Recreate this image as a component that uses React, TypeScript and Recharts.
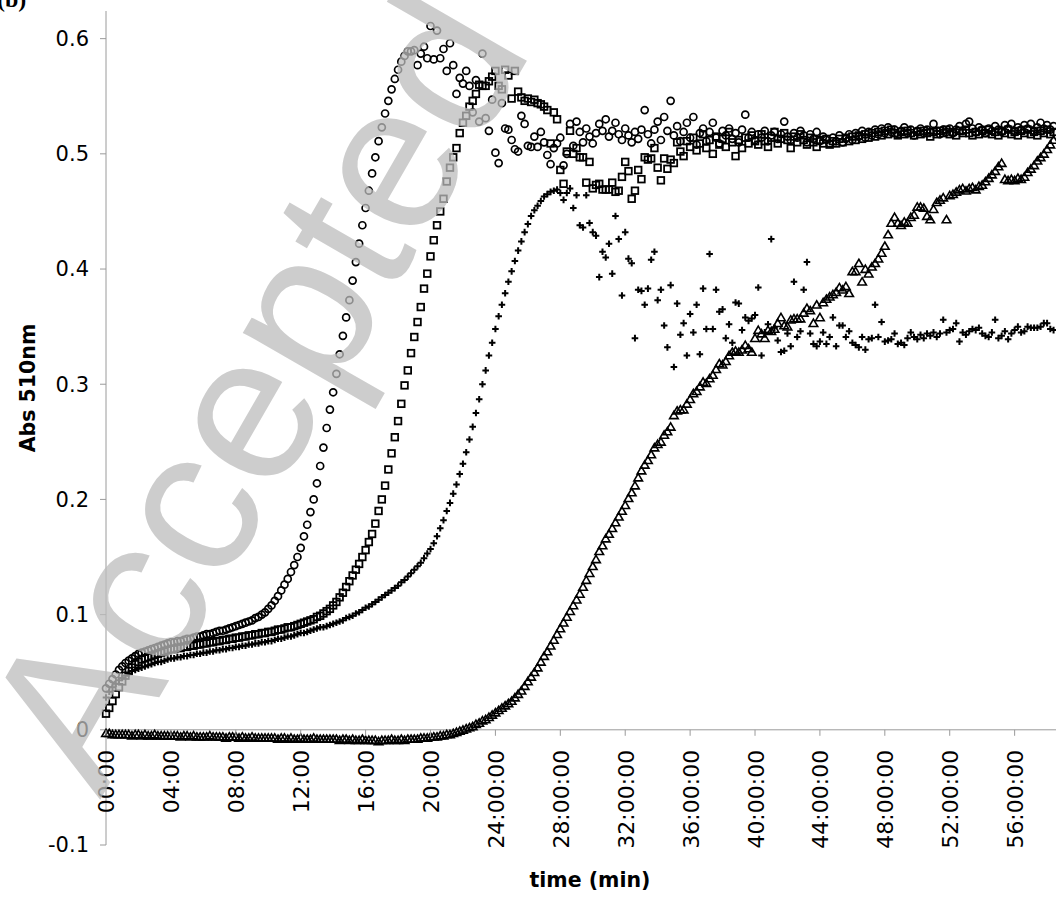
import { ScatterChart, Scatter, XAxis, YAxis, ReferenceLine } from "recharts";

// sample times (min), one reading every 12 s
const TIME_MIN = [
  0, 0.2, 0.4, 0.6, 0.8, 1, 1.2, 1.4, 1.6, 1.8,
  2, 2.2, 2.4, 2.6, 2.8, 3, 3.2, 3.4, 3.6, 3.8,
  4, 4.2, 4.4, 4.6, 4.8, 5, 5.2, 5.4, 5.6, 5.8,
  6, 6.2, 6.4, 6.6, 6.8, 7, 7.2, 7.4, 7.6, 7.8,
  8, 8.2, 8.4, 8.6, 8.8, 9, 9.2, 9.4, 9.6, 9.8,
  10, 10.2, 10.4, 10.6, 10.8, 11, 11.2, 11.4, 11.6, 11.8,
  12, 12.2, 12.4, 12.6, 12.8, 13, 13.2, 13.4, 13.6, 13.8,
  14, 14.2, 14.4, 14.6, 14.8, 15, 15.2, 15.4, 15.6, 15.8,
  16, 16.2, 16.4, 16.6, 16.8, 17, 17.2, 17.4, 17.6, 17.8,
  18, 18.2, 18.4, 18.6, 18.8, 19, 19.2, 19.4, 19.6, 19.8,
  20, 20.2, 20.4, 20.6, 20.8, 21, 21.2, 21.4, 21.6, 21.8,
  22, 22.2, 22.4, 22.6, 22.8, 23, 23.2, 23.4, 23.6, 23.8,
  24, 24.2, 24.4, 24.6, 24.8, 25, 25.2, 25.4, 25.6, 25.8,
  26, 26.2, 26.4, 26.6, 26.8, 27, 27.2, 27.4, 27.6, 27.8,
  28, 28.2, 28.4, 28.6, 28.8, 29, 29.2, 29.4, 29.6, 29.8,
  30, 30.2, 30.4, 30.6, 30.8, 31, 31.2, 31.4, 31.6, 31.8,
  32, 32.2, 32.4, 32.6, 32.8, 33, 33.2, 33.4, 33.6, 33.8,
  34, 34.2, 34.4, 34.6, 34.8, 35, 35.2, 35.4, 35.6, 35.8,
  36, 36.2, 36.4, 36.6, 36.8, 37, 37.2, 37.4, 37.6, 37.8,
  38, 38.2, 38.4, 38.6, 38.8, 39, 39.2, 39.4, 39.6, 39.8,
  40, 40.2, 40.4, 40.6, 40.8, 41, 41.2, 41.4, 41.6, 41.8,
  42, 42.2, 42.4, 42.6, 42.8, 43, 43.2, 43.4, 43.6, 43.8,
  44, 44.2, 44.4, 44.6, 44.8, 45, 45.2, 45.4, 45.6, 45.8,
  46, 46.2, 46.4, 46.6, 46.8, 47, 47.2, 47.4, 47.6, 47.8,
  48, 48.2, 48.4, 48.6, 48.8, 49, 49.2, 49.4, 49.6, 49.8,
  50, 50.2, 50.4, 50.6, 50.8, 51, 51.2, 51.4, 51.6, 51.8,
  52, 52.2, 52.4, 52.6, 52.8, 53, 53.2, 53.4, 53.6, 53.8,
  54, 54.2, 54.4, 54.6, 54.8, 55, 55.2, 55.4, 55.6, 55.8,
  56, 56.2, 56.4, 56.6, 56.8, 57, 57.2, 57.4, 57.6, 57.8,
  58, 58.2, 58.4,
];

// absorbance readings in milli-absorbance units (x 0.001)
const circle_mA = [
  36, 40, 44, 48, 52, 55, 58, 60, 62, 64,
  66, 67, 68, 69, 70, 71, 72, 73, 74, 75,
  76, 76, 77, 77, 78, 79, 79, 80, 81, 81,
  82, 83, 83, 84, 85, 86, 86, 87, 88, 89,
  90, 91, 92, 93, 94, 95, 97, 98, 100, 102,
  105, 108, 112, 116, 121, 126, 131, 137, 143, 150,
  158, 168, 178, 189, 200, 214, 229, 245, 262, 278,
  293, 309, 326, 342, 358, 373, 390, 406, 422, 438,
  453, 468, 483, 497, 511, 523, 535, 546, 556, 565,
  573, 580, 585, 589, 589, 590, 577, 587, 593, 583,
  611, 582, 607, 583, 591, 572, 596, 577, 552, 566,
  561, 572, 559, 536, 564, 528, 587, 531, 520, 547,
  501, 492, 544, 522, 521, 512, 504, 502, 533, 526,
  507, 506, 515, 506, 519, 510, 499, 491, 505, 509,
  514, 490, 500, 526, 507, 528, 519, 510, 522, 515,
  509, 518, 526, 520, 530, 515, 520, 527, 517, 512,
  522, 516, 510, 519, 513, 521, 538, 517, 509, 521,
  528, 512, 532, 520, 546, 516, 524, 511, 519, 527,
  514, 532, 508, 518, 522, 511, 519, 527, 514, 509,
  520, 516, 522, 513, 518, 510, 521, 534, 514, 519,
  512, 517, 514, 520, 511, 516, 519, 513, 517, 528,
  515, 512, 518, 514, 520, 516, 510, 517, 513, 519,
  511, 515, 512, 509, 514, 511, 516, 510, 513, 517,
  512, 518, 515, 520, 514, 519, 516, 521, 517, 522,
  518, 523, 519, 521, 517, 520, 523, 518, 521, 516,
  520, 522, 518, 521, 519, 526, 520, 517, 521, 519,
  522, 518, 521, 524, 520, 526, 528, 522, 519, 523,
  521, 518, 522, 520, 524, 521, 519, 525, 522, 526,
  520, 523, 521, 525, 522, 526, 520, 523, 527, 522,
  525, 521, 524,
];

const square_mA = [
  14, 19, 25, 31, 37, 42, 47, 51, 54, 57,
  59, 61, 62, 63, 64, 65, 66, 67, 68, 69,
  70, 70, 71, 71, 72, 72, 73, 73, 74, 74,
  75, 75, 76, 76, 77, 77, 78, 78, 79, 79,
  80, 80, 81, 81, 82, 82, 83, 83, 84, 84,
  85, 85, 86, 87, 87, 88, 89, 89, 90, 91,
  92, 93, 94, 95, 96, 98, 99, 101, 103, 105,
  108, 111, 115, 119, 124, 129, 134, 139, 144, 150,
  156, 163, 170, 179, 190, 200, 212, 226, 240, 254,
  268, 283, 299, 312, 327, 341, 354, 367, 383, 396,
  411, 425, 438, 450, 461, 476, 488, 497, 505, 518,
  527, 533, 541, 546, 552, 560, 559, 559, 563, 567,
  572, 559, 556, 573, 568, 548, 572, 554, 549, 546,
  548, 545, 547, 544, 543, 541, 538, 509, 536, 530,
  486, 474, 502, 520, 500, 505, 497, 497, 475, 493,
  470, 473, 474, 469, 469, 469, 475, 467, 468, 480,
  493, 485, 461, 468, 486, 478, 497, 495, 496, 505,
  488, 477, 496, 487, 495, 492, 510, 502, 498, 511,
  506, 514, 503, 509, 517, 505, 512, 500, 515, 508,
  513, 506, 519, 510, 498, 512, 505, 514, 509, 516,
  511, 508, 517, 511, 506, 514, 519, 509, 513, 518,
  512, 505, 515, 510, 517, 512, 508, 514, 510, 506,
  512, 509, 513, 508, 511, 509, 513, 510, 514, 511,
  515, 512, 516, 513, 517, 514, 518, 515, 519, 516,
  520, 517, 521, 518, 516, 519, 517, 520, 518, 516,
  519, 517, 520, 518, 515, 519, 517, 520, 518, 521,
  517, 519, 516, 520, 518, 521, 518, 516, 519, 517,
  520, 518, 521, 517, 519, 516, 520, 518, 521, 517,
  519, 516, 520, 518, 521, 517, 519, 516, 520, 518,
  521, 517, 519,
];

const plus_mA = [
  28, 33, 37, 40, 43, 45, 47, 49, 51, 52,
  53, 54, 55, 56, 57, 58, 59, 59, 60, 61,
  62, 62, 63, 63, 64, 64, 65, 65, 66, 66,
  67, 67, 68, 68, 69, 69, 70, 70, 71, 71,
  72, 72, 73, 73, 74, 74, 75, 75, 76, 76,
  77, 77, 78, 79, 79, 80, 81, 81, 82, 83,
  84, 84, 85, 86, 87, 88, 89, 89, 90, 91,
  92, 93, 94, 95, 97, 98, 99, 101, 102, 104,
  106, 107, 109, 111, 113, 115, 117, 119, 121, 123,
  125, 128, 130, 133, 136, 139, 142, 145, 149, 153,
  157, 162, 168, 175, 182, 190, 197, 205, 213, 222,
  231, 241, 252, 263, 275, 287, 300, 312, 325, 336,
  348, 359, 369, 379, 389, 398, 407, 416, 424, 432,
  439, 446, 451, 455, 459, 463, 465, 467, 468, 469,
  466, 460, 466, 470, 453, 464, 438, 436, 464, 440,
  432, 429, 393, 415, 410, 422, 396, 446, 426, 377,
  432, 409, 405, 340, 382, 381, 369, 383, 408, 415,
  373, 382, 351, 332, 386, 315, 370, 343, 353, 325,
  361, 345, 369, 326, 383, 348, 413, 348, 382, 363,
  365, 340, 352, 336, 371, 370, 347, 358, 355, 357,
  360, 384, 325, 345, 352, 426, 349, 338, 328, 329,
  344, 333, 389, 341, 346, 382, 406, 344, 335, 333,
  337, 345, 335, 341, 358, 333, 351, 351, 341, 346,
  336, 334, 332, 341, 330, 339, 340, 369, 341, 354,
  337, 338, 339, 344, 335, 336, 334, 340, 345, 341,
  339, 343, 340, 344, 342, 345, 341, 344, 356, 345,
  347, 348, 353, 337, 345, 343, 346, 348, 347, 349,
  344, 342, 341, 345, 356, 340, 342, 346, 339, 344,
  347, 350, 345, 346, 350, 349, 349, 349, 350, 353,
  353, 348, 347,
];

const triangle_mA = [
  -3, -3, -4, -4, -4, -4, -4, -4, -5, -4,
  -4, -5, -4, -5, -5, -4, -5, -5, -5, -5,
  -5, -5, -5, -6, -5, -5, -6, -5, -6, -6,
  -6, -6, -5, -6, -6, -6, -6, -7, -6, -6,
  -6, -7, -6, -7, -7, -6, -7, -7, -7, -7,
  -7, -7, -7, -8, -7, -7, -8, -7, -8, -8,
  -7, -8, -8, -8, -7, -8, -8, -8, -8, -8,
  -8, -8, -9, -8, -8, -9, -8, -9, -9, -8,
  -9, -9, -9, -9, -10, -9, -9, -9, -8, -9,
  -9, -8, -9, -8, -8, -8, -8, -7, -7, -7,
  -6, -6, -6, -5, -5, -4, -4, -3, -2, -1,
  0, 1, 2, 3, 5, 6, 8, 9, 11, 13,
  15, 17, 19, 21, 23, 25, 28, 31, 34, 38,
  42, 46, 50, 54, 59, 64, 68, 73, 78, 83,
  88, 93, 98, 103, 108, 113, 118, 124, 130, 136,
  142, 148, 155, 160, 166, 170, 175, 180, 185, 190,
  195, 201, 206, 212, 219, 225, 230, 234, 239, 245,
  248, 250, 256, 259, 263, 273, 277, 278, 278, 283,
  287, 292, 294, 298, 302, 301, 305, 308, 313, 318,
  317, 320, 325, 328, 329, 328, 330, 334, 331, 328,
  340, 347, 344, 340, 347, 346, 348, 353, 358, 351,
  350, 356, 357, 357, 357, 362, 366, 364, 353, 369,
  358, 371, 374, 376, 378, 380, 384, 382, 385, 379,
  398, 398, 405, 389, 400, 396, 402, 405, 409, 414,
  420, 430, 440, 445, 440, 438, 441, 440, 445, 447,
  454, 454, 453, 446, 443, 452, 458, 460, 462, 443,
  464, 465, 467, 469, 470, 468, 470, 471, 469, 472,
  473, 476, 479, 482, 485, 489, 492, 478, 477, 478,
  477, 479, 478, 480, 484, 487, 490, 494, 497, 500,
  504, 508, 512,
];

const X_TICKS = [0, 4, 8, 12, 16, 20, 24, 28, 32, 36, 40, 44, 48, 52, 56];
const X_TICK_LABELS = [
  "00:00", "04:00", "08:00", "12:00", "16:00", "20:00",
  "24:00:00", "28:00:00", "32:00:00", "36:00:00", "40:00:00",
  "44:00:00", "48:00:00", "52:00:00", "56:00:00",
];
const Y_TICKS = [-0.1, 0, 0.1, 0.2, 0.3, 0.4, 0.5, 0.6];

const W = 1056;
const H = 897;
const PLOT_TOP = 11;
const X_AXIS_H = 52;
const Y_AXIS_W = 106;
const X_MAX = 58.55;
const Y_MIN = -0.1;
const Y_MAX = 0.624;
const PLOT_BOTTOM = H - X_AXIS_H;
// the category axis crosses the value axis at 0
const ZERO_Y = PLOT_TOP + ((Y_MAX - 0) / (Y_MAX - Y_MIN)) * (PLOT_BOTTOM - PLOT_TOP);

const AXIS_GRAY = "#9a9a9a";
const FONT = "'DejaVu Sans', Verdana, sans-serif";

const toPoints = (vals: number[]) =>
  vals.map((v, i) => ({ t: TIME_MIN[i], v: v / 1000 }));

const circleShape = (p: any) => (
  <circle cx={p.cx} cy={p.cy} r={3.5} fill="none" stroke="#000" strokeWidth={1.7} />
);
const squareShape = (p: any) => (
  <rect x={p.cx - 3.3} y={p.cy - 3.3} width={6.6} height={6.6} fill="none" stroke="#000" strokeWidth={1.8} />
);
const plusShape = (p: any) => (
  <path
    d={`M${p.cx - 3.3},${p.cy}H${p.cx + 3.3}M${p.cx},${p.cy - 3.3}V${p.cy + 3.3}`}
    stroke="#000"
    strokeWidth={2}
    fill="none"
  />
);
const triangleShape = (p: any) => (
  <path
    d={`M${p.cx},${p.cy - 4}L${p.cx + 4.3},${p.cy + 3.3}L${p.cx - 4.3},${p.cy + 3.3}Z`}
    fill="none"
    stroke="#000"
    strokeWidth={1.6}
  />
);

const renderXTick = (props: any) => {
  const { x, payload } = props;
  const label = X_TICK_LABELS[X_TICKS.indexOf(payload.value)];
  const ty = ZERO_Y + 20;
  return (
    <g>
      <line x1={x} x2={x} y1={ZERO_Y} y2={ZERO_Y + 6} stroke={AXIS_GRAY} />
      <text
        x={x + 1}
        y={ty}
        transform={`rotate(-90, ${x + 1}, ${ty})`}
        textAnchor="end"
        dominantBaseline="central"
        fontFamily={FONT}
        fontSize={22}
        fill="#000"
      >
        {label}
      </text>
    </g>
  );
};

export default function App() {
  return (
    <div style={{ position: "absolute", left: 0, top: 0, width: W, height: H, background: "#fff" }}>
      <ScatterChart width={W} height={H} margin={{ top: PLOT_TOP, right: 0, bottom: 0, left: 0 }}>
        <XAxis
          type="number"
          dataKey="t"
          domain={[0, X_MAX]}
          ticks={X_TICKS}
          interval={0}
          height={X_AXIS_H}
          axisLine={false}
          tickLine={false}
          tick={renderXTick}
        />
        <YAxis
          type="number"
          dataKey="v"
          domain={[Y_MIN, Y_MAX]}
          ticks={Y_TICKS}
          interval={0}
          width={Y_AXIS_W}
          tickSize={6}
          tickMargin={11}
          axisLine={{ stroke: AXIS_GRAY }}
          tickLine={{ stroke: AXIS_GRAY }}
          tick={{ fill: "#000", fontSize: 21, fontFamily: FONT }}
          tickFormatter={(v) => String(v)}
        />
        <ReferenceLine y={0} stroke={AXIS_GRAY} />
        <Scatter data={toPoints(triangle_mA)} shape={triangleShape} isAnimationActive={false} />
        <Scatter data={toPoints(plus_mA)} shape={plusShape} isAnimationActive={false} />
        <Scatter data={toPoints(square_mA)} shape={squareShape} isAnimationActive={false} />
        <Scatter data={toPoints(circle_mA)} shape={circleShape} isAnimationActive={false} />
      </ScatterChart>
      <svg
        width={W}
        height={H}
        style={{ position: "absolute", left: 0, top: 0, pointerEvents: "none" }}
      >
        <text
          x={35}
          y={388}
          transform="rotate(-90, 35, 388)"
          textAnchor="middle"
          fontFamily={FONT}
          fontWeight="bold"
          fontSize={20.5}
          fill="#000"
        >
          Abs 510nm
        </text>
        <text x={590} y={887} textAnchor="middle" fontFamily={FONT} fontWeight="bold" fontSize={20.5} fill="#000">
          time (min)
        </text>
        <text x={-3} y={7} fontFamily="'Liberation Serif', serif" fontWeight="bold" fontSize={24} fill="#000">
          (b)
        </text>
        <text
          x={100}
          y={800}
          transform="rotate(-60, 100, 800)"
          fontFamily="'Liberation Sans', Arial, sans-serif"
          fontSize={208}
          fill="#bdbdbd"
          opacity={0.75}
        >
          Accepted Manuscript
        </text>
      </svg>
    </div>
  );
}
